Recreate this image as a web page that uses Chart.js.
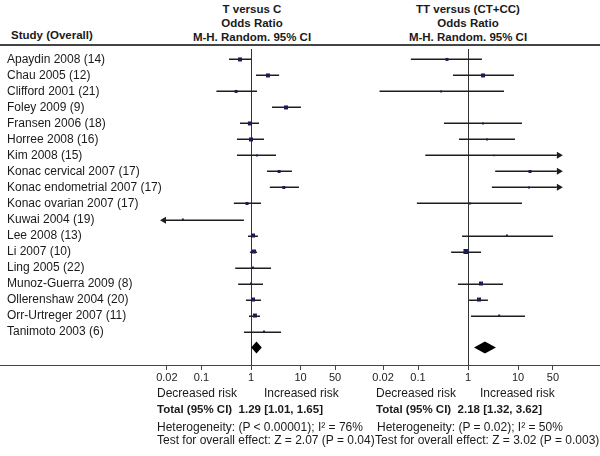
<!DOCTYPE html>
<html><head><meta charset="utf-8">
<script src="https://cdn.jsdelivr.net/npm/chart.js@4.4.1/dist/chart.umd.min.js"></script>
<style>
html,body{margin:0;padding:0;background:#fff;}
#wrap{position:relative;width:600px;height:456px;overflow:hidden;font-family:"Liberation Sans",Arial,sans-serif;color:#1a1a1a;}
.t{position:absolute;font-size:12px;line-height:14px;white-space:pre;}
.b{font-weight:bold;font-size:11.5px;}
.hd{position:absolute;top:2px;font-weight:bold;font-size:11.5px;line-height:14px;text-align:center;transform:translateX(-50%);white-space:pre;}
.hl{position:absolute;left:0;width:600px;height:2px;background:#444;}
canvas{position:absolute;top:0;}
</style></head>
<body><div id="wrap">
<div class="hd" style="left:252px">T versus C
Odds Ratio
M-H. Random. 95% CI</div>
<div class="hd" style="left:468px">TT versus (CT+CC)
Odds Ratio
M-H. Random. 95% CI</div>
<div class="t b" style="left:11px;top:28px;">Study (Overall)</div>
<div class="hl" style="top:44px"></div>
<div class="hl" style="top:365px;height:1px;"></div>
<canvas id="cL" width="348" height="456" style="left:7px"></canvas>
<canvas id="cR" width="240" height="456" style="left:360px"></canvas>

<div class="t" style="left:157px;top:386px;">Decreased risk</div>
<div class="t" style="left:264px;top:386px;">Increased risk</div>
<div class="t b" style="left:157px;top:402px;">Total (95% CI)  1.29 [1.01, 1.65]</div>
<div class="t" style="left:157px;top:420px;">Heterogeneity: (P &lt; 0.00001); I² = 76%</div>
<div class="t" style="left:157px;top:433px;">Test for overall effect: Z = 2.07 (P = 0.04)</div>

<div class="t" style="left:376px;top:386px;">Decreased risk</div>
<div class="t" style="left:480px;top:386px;">Increased risk</div>
<div class="t b" style="left:376px;top:402px;">Total (95% CI)  2.18 [1.32, 3.62]</div>
<div class="t" style="left:377px;top:420px;">Heterogeneity: (P = 0.02); I² = 50%</div>
<div class="t" style="left:375px;top:433px;">Test for overall effect: Z = 3.02 (P = 0.003)</div>
</div>
<script>
const studies = ["Apaydin 2008 (14)","Chau 2005 (12)","Clifford 2001 (21)","Foley 2009 (9)","Fransen 2006 (18)","Horree 2008 (16)","Kim 2008 (15)","Konac cervical 2007 (17)","Konac endometrial 2007 (17)","Konac ovarian 2007 (17)","Kuwai 2004 (19)","Lee 2008 (13)","Li 2007 (10)","Ling 2005 (22)","Munoz-Guerra 2009 (8)","Ollerenshaw 2004 (20)","Orr-Urtreger 2007 (11)","Tanimoto 2003 (6)"];
const tickValues = [0.02, 0.1, 1, 10, 50];

// T versus C
const orLeft  = [0.60, 2.2, 0.50, 5.1, 0.95, 1.0, 1.32, 3.7, 4.6, 0.83, 0.042, 1.1, 1.15, 1.1, 1.0, 1.1, 1.2, 1.83];
const loLeft  = [0.36, 1.26, 0.20, 2.66, 0.60, 0.52, 0.52, 2.1, 2.4, 0.45, 0.0145, 0.87, 0.95, 0.48, 0.55, 0.79, 0.91, 0.72];
const hiLeft  = [1.0, 3.7, 1.32, 10.2, 1.45, 1.83, 3.2, 6.7, 9.3, 1.59, 0.72, 1.38, 1.32, 2.54, 1.75, 1.59, 1.52, 4.04];
const arrowLeft = ["","","","","","","","","","","L","","","","","","",""];
const weightLeft = [4,4,3,4,4,4,2,3,3,3,2,4,4,2,2,4,4,2];
const totalLeft = [1.29, 1.01, 1.65];

// TT versus (CT+CC)
const orRight = [0.38, 2.0, 0.29, null, 2.0, 2.4, 3.3, 17.4, 16.6, 1.1, null, 6.0, 0.91, null, 1.82, 1.66, 4.2, null];
const loRight = [0.072, 0.5, 0.017, null, 0.33, 0.66, 0.14, 3.5, 3.0, 0.095, null, 0.76, 0.46, null, 0.63, 1.05, 1.15, null];
const hiRight = [1.9, 8.3, 5.25, null, 12, 8.7, 79, 79, 79, 12, null, 50, 1.82, null, 5.0, 2.5, 13.8, null];
const arrowRight = ["","","","","","","R","R","R","","","","","","","","",""];
const weightRight = [3,4,2,0,2,2,1.5,3,2,2,0,2,5,0,4,4,2,0];
const totalRight = [2.18, 1.32, 3.62];

const FONT = "'Liberation Sans', Arial, sans-serif";
Chart.defaults.font.family = FONT;
const LABEL_W = 145;

const forest = {
  id: 'forest',
  beforeDatasetsDraw(chart) {
    const o = chart.options.plugins.forest;
    const {ctx, chartArea: a, scales: {x, y}} = chart;
    ctx.save();
    const x1 = Math.round(x.getPixelForValue(1)) + 0.5;
    ctx.strokeStyle = '#333'; ctx.lineWidth = 1;
    ctx.beginPath(); ctx.moveTo(x1, a.top + 3); ctx.lineTo(x1, a.bottom); ctx.stroke();
    ctx.strokeStyle = '#1e1e1e'; ctx.fillStyle = '#1e1e1e'; ctx.lineWidth = 1.5;
    o.lo.forEach((l, i) => {
      if (l == null) return;
      const yy = Math.round(y.getPixelForValue(i)) + 0.25;
      let xa = x.getPixelForValue(l), xb = x.getPixelForValue(o.hi[i]);
      const ah = 6, aw = 3.5;
      if (o.arrow[i] === 'L') {
        ctx.beginPath(); ctx.moveTo(xa, yy); ctx.lineTo(xa + ah, yy - aw); ctx.lineTo(xa + ah, yy + aw); ctx.closePath(); ctx.fill();
        xa += ah;
      }
      if (o.arrow[i] === 'R') {
        ctx.beginPath(); ctx.moveTo(xb, yy); ctx.lineTo(xb - ah, yy - aw); ctx.lineTo(xb - ah, yy + aw); ctx.closePath(); ctx.fill();
        xb -= ah;
      }
      ctx.beginPath(); ctx.moveTo(xa, yy); ctx.lineTo(xb, yy); ctx.stroke();
    });
    ctx.restore();
  },
  afterDatasetsDraw(chart) {
    const o = chart.options.plugins.forest;
    const {ctx, scales: {x, y}} = chart;
    const yy = y.getPixelForValue(studies.length);
    const xc = x.getPixelForValue(o.total[0]), xl = x.getPixelForValue(o.total[1]), xr = x.getPixelForValue(o.total[2]);
    ctx.save();
    ctx.fillStyle = '#000';
    ctx.beginPath(); ctx.moveTo(xl, yy); ctx.lineTo(xc, yy - 6); ctx.lineTo(xr, yy); ctx.lineTo(xc, yy + 6); ctx.closePath(); ctx.fill();
    ctx.restore();
  }
};

function makePanel(id, or, lo, hi, arrow, weight, total, showLabels, padding) {
  const pts = [], radii = [];
  or.forEach((v, i) => { if (v != null) { pts.push({x: v, y: i}); radii.push(weight[i] / 1.414); } });
  return new Chart(document.getElementById(id), {
    type: 'scatter',
    data: { datasets: [{ data: pts, pointStyle: 'rect', pointRadius: radii, pointBorderWidth: 0,
      backgroundColor: '#1a1c55', borderColor: '#1a1c55' }] },
    options: {
      responsive: false, animation: false, events: [],
      layout: { padding: padding },
      plugins: { legend: {display: false}, tooltip: {enabled: false},
        forest: { lo, hi, arrow, total } },
      scales: {
        x: { type: 'logarithmic', min: 0.01, max: 100,
          afterBuildTicks: s => { s.ticks = tickValues.map(v => ({value: v})); },
          afterFit: s => { s.height = 91; },
          grid: { drawOnChartArea: false, drawTicks: true, tickLength: 5, color: '#444', lineWidth: 1 },
          border: { display: true, color: '#444', width: 1 },
          ticks: { autoSkip: false, maxRotation: 0, minRotation: 0, padding: 1,
            font: { size: 11, family: FONT }, color: '#222', callback: v => String(v) } },
        y: { type: 'linear', reverse: true, min: -0.84, max: 19.09, display: showLabels,
          afterBuildTicks: s => { s.ticks = studies.map((_, i) => ({value: i})); },
          afterFit: s => { if (showLabels) s.width = LABEL_W; },
          grid: { display: false, drawTicks: false, tickLength: 0 }, border: { display: false },
          ticks: { mirror: true, padding: -LABEL_W, autoSkip: false,
            font: { size: 12, family: FONT }, color: '#1a1a1a', callback: v => studies[v] } }
      }
    },
    plugins: [forest]
  });
}

makePanel('cL', orLeft, loLeft, hiLeft, arrowLeft, weightLeft, totalLeft, true, {top: 46, right: 5, left: 0, bottom: 0});
makePanel('cR', orRight, loRight, hiRight, arrowRight, weightRight, totalRight, false, {top: 46, right: 32, left: 8, bottom: 0});
</script>
</body></html>
